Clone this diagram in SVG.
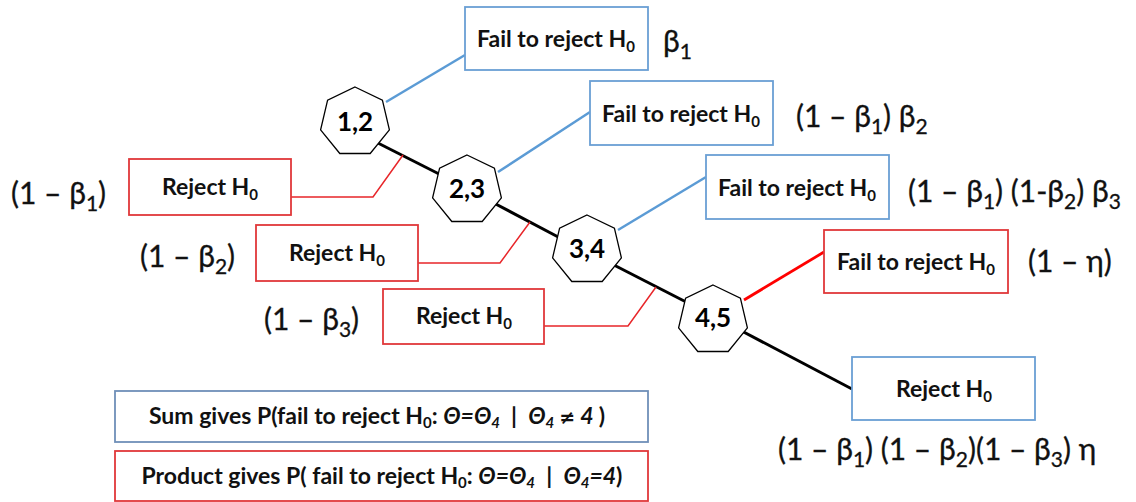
<svg xmlns="http://www.w3.org/2000/svg" xmlns:xlink="http://www.w3.org/1999/xlink" width="1136" height="502" viewBox="0 0 1136 502">
<style>
.bb{fill:#fff;stroke:#6a9fd4;stroke-width:1.8}
.rb{fill:#fff;stroke:#e0383a;stroke-width:1.8}
.lb{fill:#fff;stroke:#6f8fb8;stroke-width:1.8}
.hp{fill:#fff;stroke:#000;stroke-width:1.3}
.bt{font-family:Lato,"Liberation Sans",sans-serif;font-weight:bold;font-size:23px;fill:#111;text-anchor:middle}
.ht{font-family:Lato,"Liberation Sans",sans-serif;font-weight:bold;font-size:26px;fill:#000;text-anchor:middle}
.fm{font-family:Lato,"Liberation Sans",sans-serif;font-size:30px;fill:#111;stroke:#111;stroke-width:0.3}
.lt{font-family:Lato,"Liberation Sans",sans-serif;font-weight:bold;font-size:23px;fill:#111;text-anchor:middle}
.s{font-size:15px}
.fs{font-size:21px}
.ls{font-size:15px}
.it{font-style:italic}
.ne{font-family:"DejaVu Sans",sans-serif;font-size:19px}
.k{stroke:#000;stroke-width:3;fill:none}
.bl{stroke:#5b9bd5;stroke-width:2.5;fill:none}
.rt{stroke:#e8262a;stroke-width:1.5;fill:none}
.rk{stroke:#ff0000;stroke-width:2.8;fill:none}
</style>
<defs>
<polygon id="hept" points="0,-35 27.4,-21.8 34.4,7.8 15.2,31.5 -15.2,31.5 -34.4,7.8 -27.4,-21.8"/>
</defs>
<g id="connectors">
<line class="k" x1="370" y1="139" x2="445" y2="177"/>
<line class="k" x1="490" y1="201" x2="562" y2="239"/>
<line class="k" x1="610" y1="263" x2="690" y2="304"/>
<line class="k" x1="738" y1="329" x2="852" y2="389"/>
<line class="bl" x1="386" y1="102" x2="465" y2="55"/>
<line class="bl" x1="498" y1="172" x2="590" y2="112"/>
<line class="bl" x1="618" y1="230" x2="706" y2="177"/>
<line class="rk" x1="744" y1="300" x2="824" y2="252"/>
<polyline class="rt" points="291,197 373,197 403,155"/>
<polyline class="rt" points="418,263 500,263 530,222"/>
<polyline class="rt" points="544,326 628,326 656,287"/>
</g>
<g id="n12"><use xlink:href="#hept" href="#hept" class="hp" x="355" y="122"/><text class="ht" x="355" y="131">1,2</text></g>
<g id="n23"><use xlink:href="#hept" href="#hept" class="hp" x="467" y="190"/><text class="ht" x="467" y="198">2,3</text></g>
<g id="n34"><use xlink:href="#hept" href="#hept" class="hp" x="587" y="250"/><text class="ht" x="587" y="258">3,4</text></g>
<g id="n45"><use xlink:href="#hept" href="#hept" class="hp" x="713" y="320"/><text class="ht" x="713" y="327">4,5</text></g>
<g id="fail1"><rect class="bb" x="465" y="7" width="183" height="63"/><text class="bt" x="556" y="47">Fail to reject H<tspan class="s" dy="5">0</tspan></text></g>
<g id="fail2"><rect class="bb" x="590" y="81" width="183" height="64"/><text class="bt" x="681" y="122">Fail to reject H<tspan class="s" dy="5">0</tspan></text></g>
<g id="fail3"><rect class="bb" x="706" y="155" width="183" height="64"/><text class="bt" x="797" y="196">Fail to reject H<tspan class="s" dy="5">0</tspan></text></g>
<g id="fail4"><rect class="rb" x="824" y="230" width="184" height="63"/><text class="bt" x="916" y="270">Fail to reject H<tspan class="s" dy="5">0</tspan></text></g>
<g id="rej1"><rect class="rb" x="129" y="159" width="162" height="56"/><text class="bt" x="210" y="195">Reject H<tspan class="s" dy="5">0</tspan></text></g>
<g id="rej2"><rect class="rb" x="256" y="225" width="162" height="56"/><text class="bt" x="337" y="261">Reject H<tspan class="s" dy="5">0</tspan></text></g>
<g id="rej3"><rect class="rb" x="383" y="289" width="161" height="55"/><text class="bt" x="464" y="324">Reject H<tspan class="s" dy="5">0</tspan></text></g>
<g id="rej4"><rect class="bb" x="852" y="357" width="183" height="63"/><text class="bt" x="944" y="397">Reject H<tspan class="s" dy="5">0</tspan></text></g>
<g id="labels">
<text class="fm" x="663" y="52">β<tspan class="fs" dy="7">1</tspan></text>
<text class="fm" x="796" y="127">(1 – β<tspan class="fs" dy="7">1</tspan><tspan dy="-7">) β</tspan><tspan class="fs" dy="7">2</tspan></text>
<text class="fm" x="908" y="202">(1 – β<tspan class="fs" dy="7">1</tspan><tspan dy="-7">) (1-β</tspan><tspan class="fs" dy="7">2</tspan><tspan dy="-7">) β</tspan><tspan class="fs" dy="7">3</tspan></text>
<text class="fm" x="1028" y="272">(1 – η)</text>
<text class="fm" x="11" y="204">(1 – β<tspan class="fs" dy="7">1</tspan><tspan dy="-7">)</tspan></text>
<text class="fm" x="140" y="267">(1 – β<tspan class="fs" dy="7">2</tspan><tspan dy="-7">)</tspan></text>
<text class="fm" x="264" y="330">(1 – β<tspan class="fs" dy="7">3</tspan><tspan dy="-7">)</tspan></text>
<text class="fm" x="778" y="460">(1 – β<tspan class="fs" dy="7">1</tspan><tspan dy="-7">) (1 – β</tspan><tspan class="fs" dy="7">2</tspan><tspan dy="-7">)(1 – β</tspan><tspan class="fs" dy="7">3</tspan><tspan dy="-7">) η</tspan></text>
</g>
<g id="legend-sum"><rect class="lb" x="115" y="391" width="533" height="51"/><text class="lt" x="377" y="424">Sum gives P(fail to reject H<tspan class="ls" dy="4">0</tspan><tspan dy="-4">: </tspan><tspan class="it">Θ=Θ</tspan><tspan class="ls it" dy="4">4</tspan><tspan dy="-4">&#160;&#160;|&#160;&#160;</tspan><tspan class="it">Θ</tspan><tspan class="ls it" dy="4">4</tspan><tspan class="it" dy="-4"> </tspan><tspan class="ne">≠</tspan><tspan class="it"> 4 </tspan>)</text></g>
<g id="legend-product"><rect class="rb" x="115" y="451" width="533" height="50"/><text class="lt" x="382" y="484">Product gives P( fail to reject H<tspan class="ls" dy="4">0</tspan><tspan dy="-4">: </tspan><tspan class="it">Θ=Θ</tspan><tspan class="ls it" dy="4">4</tspan><tspan dy="-4">&#160;&#160;|&#160;&#160;</tspan><tspan class="it">Θ</tspan><tspan class="ls it" dy="4">4</tspan><tspan class="it" dy="-4">=4</tspan>)</text></g>
</svg>
